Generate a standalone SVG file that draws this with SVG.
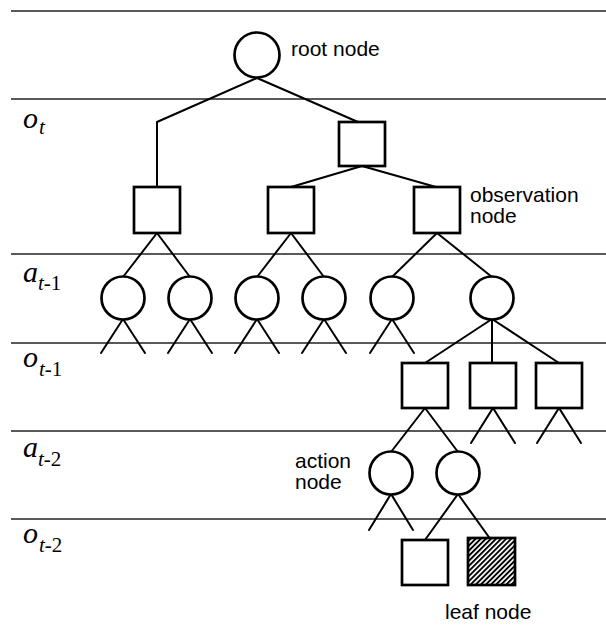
<svg xmlns="http://www.w3.org/2000/svg" width="606" height="627" viewBox="0 0 606 627">
<defs>
<style>
.bg{fill:#fff}
.rule{stroke:#222;stroke-width:1.3;fill:none}
.n{fill:#fff;stroke:#000;stroke-width:2.7}
.c{stroke:#000;stroke-width:2;fill:none;stroke-linecap:round;stroke-linejoin:miter}
.lbl{font-family:"Liberation Sans",Arial,sans-serif;font-size:21px;fill:#000}
.lv{font-family:"Liberation Serif","Times New Roman",serif;font-style:italic;font-size:30px;fill:#000}
.sub{font-size:21px}
.up{font-style:normal}
</style>
<pattern id="hatch" patternUnits="userSpaceOnUse" width="3.6" height="3.6" patternTransform="rotate(45)">
<rect x="0" y="0" width="3.6" height="3.6" fill="#fff"/>
<rect x="0" y="0" width="1.9" height="3.6" fill="#000"/>
</pattern>
</defs>
<rect class="bg" x="0" y="0" width="606" height="627"/>

<g id="rules">
<line class="rule" x1="11" y1="11" x2="606" y2="11"/>
<line class="rule" x1="11" y1="99" x2="606" y2="99"/>
<line class="rule" x1="11" y1="254" x2="606" y2="254"/>
<line class="rule" x1="11" y1="343" x2="606" y2="343"/>
<line class="rule" x1="11" y1="431" x2="606" y2="431"/>
<line class="rule" x1="11" y1="519" x2="606" y2="519"/>
</g>

<g id="level-labels">
<text class="lv" x="23" y="128">o<tspan class="sub" x="39" y="134">t</tspan></text>
<text class="lv" x="23" y="282">a<tspan class="sub" x="38" y="290">t</tspan><tspan class="sub up">-1</tspan></text>
<text class="lv" x="23" y="367">o<tspan class="sub" x="39" y="376">t</tspan><tspan class="sub up">-1</tspan></text>
<text class="lv" x="23" y="457">a<tspan class="sub" x="38" y="466">t</tspan><tspan class="sub up">-2</tspan></text>
<text class="lv" x="23" y="543">o<tspan class="sub" x="39" y="552">t</tspan><tspan class="sub up">-2</tspan></text>
</g>

<g id="connectors">
<polyline class="c" points="257,78 157,122 157,187"/>
<line class="c" x1="257" y1="78" x2="358" y2="122"/>
<line class="c" x1="362" y1="166" x2="291" y2="187"/>
<line class="c" x1="362" y1="166" x2="436" y2="187"/>
<line class="c" x1="157" y1="233" x2="123" y2="277"/>
<line class="c" x1="157" y1="233" x2="190" y2="277"/>
<line class="c" x1="291" y1="233" x2="257" y2="277"/>
<line class="c" x1="291" y1="233" x2="324" y2="277"/>
<line class="c" x1="437" y1="233" x2="392" y2="277"/>
<line class="c" x1="437" y1="233" x2="492" y2="277"/>
<polyline class="c" points="101,353 123,319 145,353"/>
<polyline class="c" points="168,353 190,319 212,353"/>
<polyline class="c" points="235,353 257,319 279,353"/>
<polyline class="c" points="302,353 324,319 346,353"/>
<polyline class="c" points="370,353 392,319 414,353"/>
<line class="c" x1="492" y1="319" x2="425" y2="363"/>
<line class="c" x1="492" y1="319" x2="492" y2="363"/>
<line class="c" x1="492" y1="319" x2="559" y2="363"/>
<line class="c" x1="425" y1="408" x2="391" y2="452"/>
<line class="c" x1="425" y1="408" x2="458" y2="452"/>
<polyline class="c" points="471,443 493,408 515,443"/>
<polyline class="c" points="537,443 559,408 581,443"/>
<polyline class="c" points="369,530 391,494 413,530"/>
<line class="c" x1="458" y1="494" x2="425" y2="540"/>
<line class="c" x1="458" y1="494" x2="491" y2="540"/>
</g>

<g id="root">
<circle class="n" cx="257" cy="55" r="22.5"/>
<text class="lbl" x="291" y="56">root node</text>
</g>
<g id="obs-t">
<rect class="n" x="339" y="122" width="46" height="44"/>
</g>
<g id="act-1"><rect class="n" x="134" y="187" width="46" height="46"/></g>
<g id="act-2"><rect class="n" x="268" y="187" width="46" height="46"/></g>
<g id="act-3">
<rect class="n" x="414" y="187" width="46" height="46"/>
<text class="lbl" x="470" y="202">observation</text>
<text class="lbl" x="470" y="223">node</text>
</g>
<g id="a1-1"><circle class="n" cx="123" cy="298" r="21.5"/></g>
<g id="a1-2"><circle class="n" cx="190" cy="298" r="21.5"/></g>
<g id="a1-3"><circle class="n" cx="257" cy="298" r="21.5"/></g>
<g id="a1-4"><circle class="n" cx="324" cy="298" r="21.5"/></g>
<g id="a1-5"><circle class="n" cx="392" cy="298" r="21.5"/></g>
<g id="a1-6"><circle class="n" cx="492" cy="298" r="21.5"/></g>
<g id="o1-1"><rect class="n" x="402" y="363" width="46" height="45"/></g>
<g id="o1-2"><rect class="n" x="470" y="363" width="46" height="45"/></g>
<g id="o1-3"><rect class="n" x="536" y="363" width="46" height="45"/></g>
<g id="a2-1">
<circle class="n" cx="391" cy="473" r="21.5"/>
<text class="lbl" x="295" y="468">action</text>
<text class="lbl" x="295" y="489">node</text>
</g>
<g id="a2-2"><circle class="n" cx="458" cy="473" r="21.5"/></g>
<g id="o2-1"><rect class="n" x="402" y="540" width="46" height="45"/></g>
<g id="leaf">
<rect x="468" y="538" width="47" height="47" fill="url(#hatch)" stroke="#000" stroke-width="2.7"/>
<text class="lbl" x="445" y="619">leaf node</text>
</g>
</svg>
